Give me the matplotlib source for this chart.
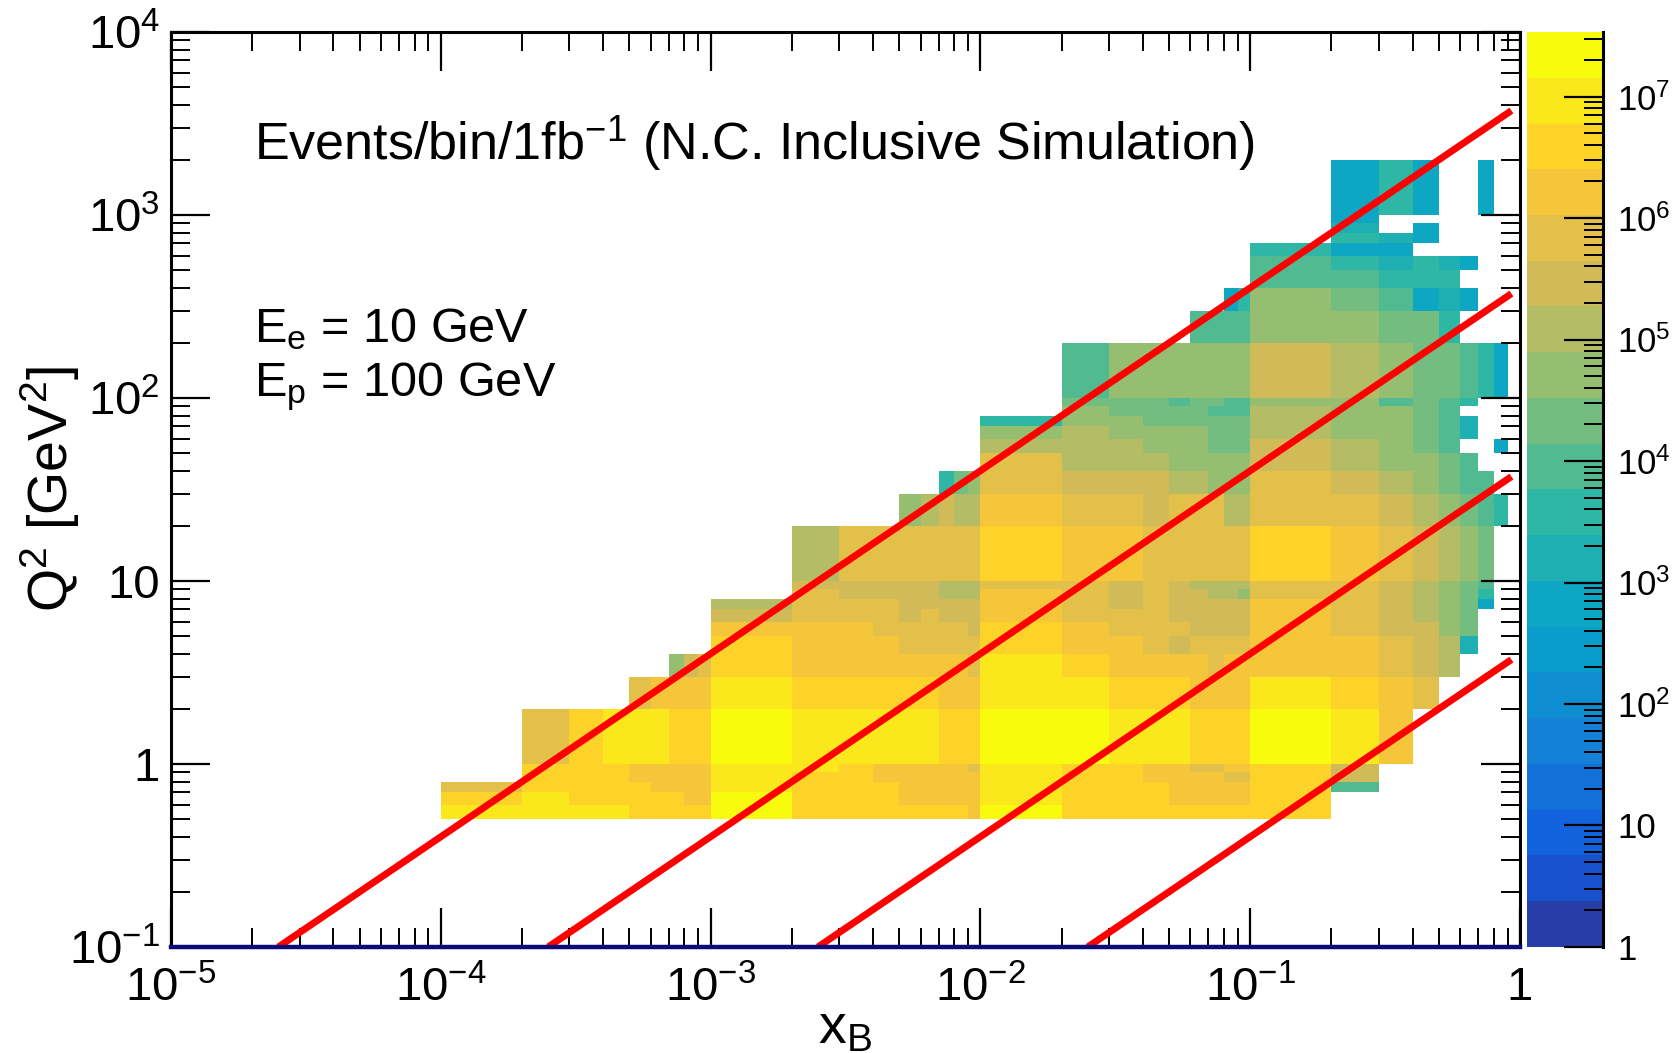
import numpy as np
import matplotlib
matplotlib.use('Agg')
import matplotlib.pyplot as plt
from matplotlib.colors import ListedColormap, BoundaryNorm
from matplotlib.ticker import FixedLocator, FixedFormatter, LogLocator, NullFormatter

plt.rcParams['font.family'] = ['Liberation Sans', 'DejaVu Sans']
plt.rcParams['mathtext.fontset'] = 'custom'
plt.rcParams['mathtext.rm'] = 'Liberation Sans'
plt.rcParams['mathtext.it'] = 'Liberation Sans'
plt.rcParams['mathtext.bf'] = 'Liberation Sans:bold'
plt.rcParams['mathtext.default'] = 'regular'

### DATA ###

# beam energies and the inelasticity values of the red lines
E_e = 10.0
E_p = 100.0
y_lines = [1.0, 0.1, 0.01, 0.001]
line_x_end = 0.93

# colour scale (20 log contours, ROOT style)
z_min, z_max = 1.0, 3.4e7
n_contours = 20

# bins: 1,2,...,9 x 10^k in each decade
decade_steps = list(range(1, 10))
x_edges = [n * 10.0**k for k in range(-5, 0) for n in decade_steps] + [1.0]
q2_edges = [n * 10.0**k for k in range(-1, 4) for n in decade_steps] + [1e4]

# colour band read off each cell ('.' = empty, 7..9 then A=10 ... J=19)
# rows from Q2 bin 1000-2000 down to 0.5-0.6, columns from x bin 1e-4 to 0.9
first_col = 9
top_row = 36
level_rows = [
    ".........|.........|.........|.797..7.",
    ".........|.........|.........|.7......",
    ".........|.........|.........|.8.7....",
    ".........|.........|.........|.987....",
    ".........|.........|.........|977.....",
    ".........|.........|.........|A98987..",
    ".........|.........|.........|AA999...",
    ".........|.........|.......79|CBA787..",
    ".........|.........|.....AAAA|CCBB9...",
    ".........|.........|.ACCCCCCC|EDCBBA97",
    ".........|.........|.BBBABBAA|CCABA9..",
    ".........|.........|.CBBBBAAA|DCCBA...",
    ".........|.........|9CCBBBBBB|DCCBA8..",
    ".........|.........|CDCCCCBBB|DCCBA8..",
    ".........|.........|DDDCCCBBB|EDCBA..7",
    ".........|.........|FDDDCCCCC|EDCCBA..",
    ".........|......9BC|FEEEDDCCC|FEDCBAA.",
    ".........|....CDEDD|GFFEFFFDD|FFEDCBA9",
    ".........|.DFFFFFFF|HGGFFFFFF|HGFEDCB.",
    ".........|.EEEEEDDD|FFEFEDDDD|FFEDCBA.",
    ".........|.FEEEEDDD|GFEFEEDDC|FFEDCB9.",
    ".........|DFFFEEEEE|GFEFEEEEE|GFEDCB7.",
    ".........|EFFFEFEEE|GFFFEEEEE|GFEDCB..",
    ".........|GGGFFFFFE|HGFFFEEEE|GFEECB..",
    ".........|HGGGFFFFF|HGGFEFFFF|GGFED8..",
    "......CEF|HGGGGGGGF|IHGGGGFGG|GGFED...",
    "....FGGGG|IHHHHHGGG|IIHHHGGGG|IHGF....",
    ".FHIIIHHH|JIIIIIHHH|JJIIIHHHH|JIG.....",
    ".HHHGGGGG|IIHGGGGGF|IHHGGFFGG|HE......",
    ".HHHGGGGG|IHHGGGGGG|IHHGGGGFF|HE......",
    "FHHHHGGGG|IHHHGGGGG|IHHHGGGGG|HA......",
    "HIHHHHHGG|JHHHGGGGG|IHHHGGGGG|H.......",
    "IIIIHHHHH|JHHHHHHHG|JHHHHHHHH|H.......",
]
level_chars = '0123456789ABCDEFGHIJ'

x_ticks = [1e-5, 1e-4, 1e-3, 1e-2, 1e-1, 1.0]
x_ticklabels = ['10$^{-5}$', '10$^{-4}$', '10$^{-3}$', '10$^{-2}$', '10$^{-1}$', '1']
y_ticks = [0.1, 1.0, 10.0, 100.0, 1000.0, 1e4]
y_ticklabels = ['10$^{-1}$', '1', '10', '10$^{2}$', '10$^{3}$', '10$^{4}$']
cb_ticks = [1, 10, 1e2, 1e3, 1e4, 1e5, 1e6, 1e7]
cb_ticklabels = ['1', '10', '10$^{2}$', '10$^{3}$', '10$^{4}$', '10$^{5}$', '10$^{6}$', '10$^{7}$']

### PALETTE (ROOT kBird) ###
bird_stops = np.linspace(0, 1, 9)
bird_red = [0.2082, 0.0592, 0.0780, 0.0232, 0.1802, 0.5301, 0.8186, 0.9956, 0.9764]
bird_green = [0.1664, 0.3599, 0.5041, 0.6419, 0.7178, 0.7492, 0.7328, 0.7862, 0.9832]
bird_blue = [0.5293, 0.8684, 0.8385, 0.7914, 0.6425, 0.4662, 0.3499, 0.1968, 0.0539]
t = np.linspace(0, 1, 255)
pal = np.column_stack([np.interp(t, bird_stops, c) for c in (bird_red, bird_green, bird_blue)])
band_colors = [pal[int((k + 0.99) * 255 / n_contours)] for k in range(n_contours)]
cmap = ListedColormap(band_colors)
bounds = np.logspace(np.log10(z_min), np.log10(z_max), n_contours + 1)
norm = BoundaryNorm(bounds, n_contours)
band_centres = np.sqrt(bounds[:-1] * bounds[1:])

# fill the histogram
Z = np.full((len(q2_edges) - 1, len(x_edges) - 1), np.nan)
for r, row in enumerate(level_rows):
    row = row.replace('|', '')
    for c, ch in enumerate(row):
        if ch != '.':
            Z[top_row - r, first_col + c] = band_centres[level_chars.index(ch)]
Z = np.ma.masked_invalid(Z)

### PLOT ###
fig = plt.figure(figsize=(16.78, 10.53), dpi=100)
ax = fig.add_axes([0.1019, 0.1007, 0.8039, 0.8689])
cax = fig.add_axes([0.9100, 0.1007, 0.0453, 0.8689])

ax.pcolormesh(x_edges, q2_edges, Z, cmap=cmap, norm=norm, shading='flat')
ax.set_xscale('log')
ax.set_yscale('log')
ax.set_xlim(1e-5, 1.0)
ax.set_ylim(0.1, 1e4)

s = 4 * E_e * E_p
for yv in y_lines:
    x0 = 0.1 / (s * yv)
    ax.plot([x0, line_x_end], [s * yv * x0, s * yv * line_x_end], color='red', lw=5,
            solid_capstyle='butt')

ax.xaxis.set_major_locator(FixedLocator(x_ticks))
ax.xaxis.set_major_formatter(FixedFormatter(x_ticklabels))
ax.yaxis.set_major_locator(FixedLocator(y_ticks))
ax.yaxis.set_major_formatter(FixedFormatter(y_ticklabels))
for axis in (ax.xaxis, ax.yaxis):
    axis.set_minor_locator(LogLocator(base=10, subs=np.arange(2, 10), numticks=20))
    axis.set_minor_formatter(NullFormatter())

ax.tick_params(which='both', direction='in', top=True, right=True, labelsize=34)
ax.tick_params(which='major', length=28, width=1.6)
ax.tick_params(which='minor', length=14, width=1.4)
ax.tick_params(axis='x', pad=14)
ax.tick_params(axis='y', pad=8)
for sp in ax.spines.values():
    sp.set_linewidth(2.2)
ax.spines['bottom'].set_color('#0c0c78')
ax.spines['bottom'].set_linewidth(3.2)

ax.set_xlabel('x$_{B}$', fontsize=40)
ax.xaxis.set_label_coords(0.5, -0.062)
ax.set_ylabel('Q$^{2}$ [GeV$^{2}$]', fontsize=40)
ax.yaxis.set_label_coords(-0.066, 0.5)

ax.text(0.0615, 0.860, 'Events/bin/1fb$^{-1}$ (N.C. Inclusive Simulation)',
        transform=ax.transAxes, fontsize=37.5, va='baseline')
ax.text(0.0615, 0.661, 'E$_{e}$ = 10 GeV', transform=ax.transAxes, fontsize=35, va='baseline')
ax.text(0.0615, 0.602, 'E$_{p}$ = 100 GeV', transform=ax.transAxes, fontsize=35, va='baseline')

# colour bar
cax.pcolormesh([0, 1], bounds, band_centres.reshape(-1, 1), cmap=cmap, norm=norm)
cax.set_yscale('log')
cax.set_ylim(z_min, z_max)
cax.set_xlim(0, 1)
for name, sp in cax.spines.items():
    sp.set_visible(name == 'right')
cax.spines['right'].set_linewidth(2.2)
cax.set_xticks([])
cax.yaxis.set_major_locator(FixedLocator(cb_ticks))
cax.yaxis.set_major_formatter(FixedFormatter(cb_ticklabels))
cax.yaxis.set_minor_locator(LogLocator(base=10, subs=np.arange(2, 10), numticks=20))
cax.yaxis.set_minor_formatter(NullFormatter())
cax.yaxis.tick_right()
cax.tick_params(axis='y', which='both', direction='in', left=False, right=True,
                labelsize=25, pad=10)
cax.tick_params(axis='y', which='major', length=28, width=1.6)
cax.tick_params(axis='y', which='minor', length=14, width=1.4)

fig.savefig('out.png', dpi=100)
